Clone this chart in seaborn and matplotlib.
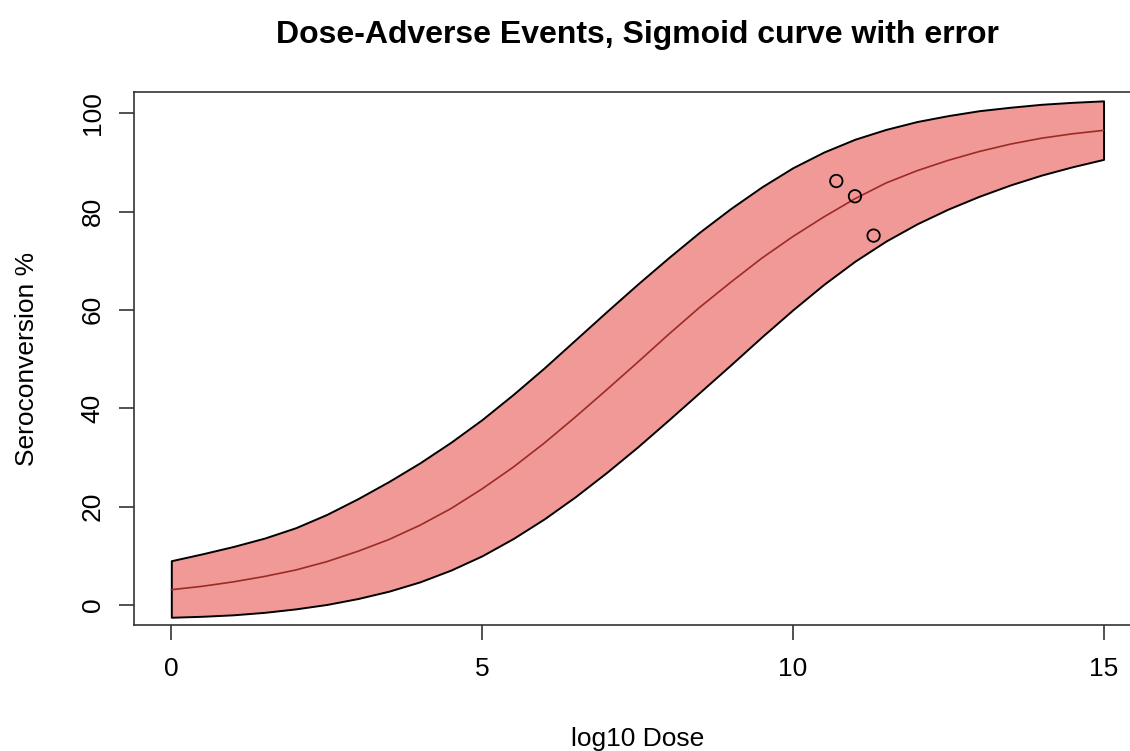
import matplotlib
matplotlib.use("Agg")
import numpy as np
import pandas as pd
import seaborn as sns
import matplotlib.pyplot as plt

# values
log_dose = [0.0, 0.5, 1.0, 1.5, 2.0, 2.5, 3.0, 3.5, 4.0, 4.5, 5.0, 5.5, 6.0, 6.5, 7.0, 7.5,
            8.0, 8.5, 9.0, 9.5, 10.0, 10.5, 11.0, 11.5, 12.0, 12.5, 13.0, 13.5, 14.0, 14.5, 15.0]
fit_mid = [3.1, 3.8, 4.7, 5.8, 7.1, 8.8, 10.9, 13.3, 16.2, 19.6, 23.6, 28.0, 32.9, 38.2, 43.7, 49.3,
           55.0, 60.5, 65.6, 70.5, 74.9, 78.9, 82.6, 85.8, 88.3, 90.4, 92.2, 93.7, 94.9, 95.8, 96.5]
fit_upper = [9.0, 10.4, 11.9, 13.6, 15.7, 18.4, 21.6, 25.1, 28.9, 33.1, 37.7, 42.8, 48.2, 53.9, 59.6, 65.2,
             70.6, 75.8, 80.6, 85.0, 88.9, 92.1, 94.7, 96.7, 98.3, 99.5, 100.5, 101.2, 101.8, 102.2, 102.5]
fit_lower = [-2.5, -2.3, -2.0, -1.5, -0.8, 0.1, 1.3, 2.8, 4.7, 7.1, 10.0, 13.5, 17.5, 22.0, 26.9, 32.1,
             37.6, 43.2, 48.8, 54.5, 60.0, 65.2, 69.9, 74.0, 77.5, 80.5, 83.1, 85.4, 87.4, 89.1, 90.6]

obs_dose = [10.7, 11.0, 11.3]
obs_sero = [86.2, 83.1, 75.1]

x_ticks = [0, 5, 10, 15]
y_ticks = [0, 20, 40, 60, 80, 100]

df_fit = pd.DataFrame({"dose": log_dose, "mid": fit_mid, "upper": fit_upper, "lower": fit_lower})
df_obs = pd.DataFrame({"dose": obs_dose, "sero": obs_sero})

sns.set_theme(style="ticks")
plt.rcParams["font.family"] = ["Liberation Sans", "DejaVu Sans"]
plt.rcParams["text.color"] = "black"
plt.rcParams["axes.labelcolor"] = "black"
plt.rcParams["xtick.color"] = "black"
plt.rcParams["ytick.color"] = "black"

fig = plt.figure(figsize=(11.3, 7.51), dpi=100)
ax = fig.add_axes([0.1186, 0.1678, 0.891, 0.7097])

ax.fill_between(df_fit["dose"], df_fit["lower"], df_fit["upper"],
                facecolor="#F19996", edgecolor="black", linewidth=1.4,
                joinstyle="round", zorder=2)
sns.lineplot(data=df_fit, x="dose", y="mid", color="#9B2B25", linewidth=1.2,
             solid_joinstyle="round", ax=ax, zorder=3)
sns.scatterplot(data=df_obs, x="dose", y="sero", marker="o", s=80,
                facecolor="none", edgecolor="black", linewidth=1.3, ax=ax, zorder=4)

ax.set_xlim(-0.6, 15.6)
ax.set_ylim(-4.07, 104.3)
ax.set_xticks(x_ticks)
ax.set_yticks(y_ticks)
ax.set_xticklabels([str(t) for t in x_ticks], fontsize=19)
ax.set_yticklabels([str(t) for t in y_ticks], fontsize=19, rotation=90, va="center")
ax.tick_params(axis="x", length=11, width=1.1, color="#222222", pad=12)
ax.tick_params(axis="y", length=11, width=1.1, color="#222222", pad=10)

for side in ["left", "right", "top", "bottom"]:
    ax.spines[side].set_visible(True)
    ax.spines[side].set_color("#333333")
    ax.spines[side].set_linewidth(1.2)

ax.set_xlabel("log10 Dose", fontsize=19, labelpad=33)
ax.set_ylabel("Seroconversion %", fontsize=19, labelpad=30)
ax.set_title("Dose-Adverse Events, Sigmoid curve with error", fontsize=23,
             fontweight="bold", pad=35)

fig.savefig("out.png", dpi=100)
